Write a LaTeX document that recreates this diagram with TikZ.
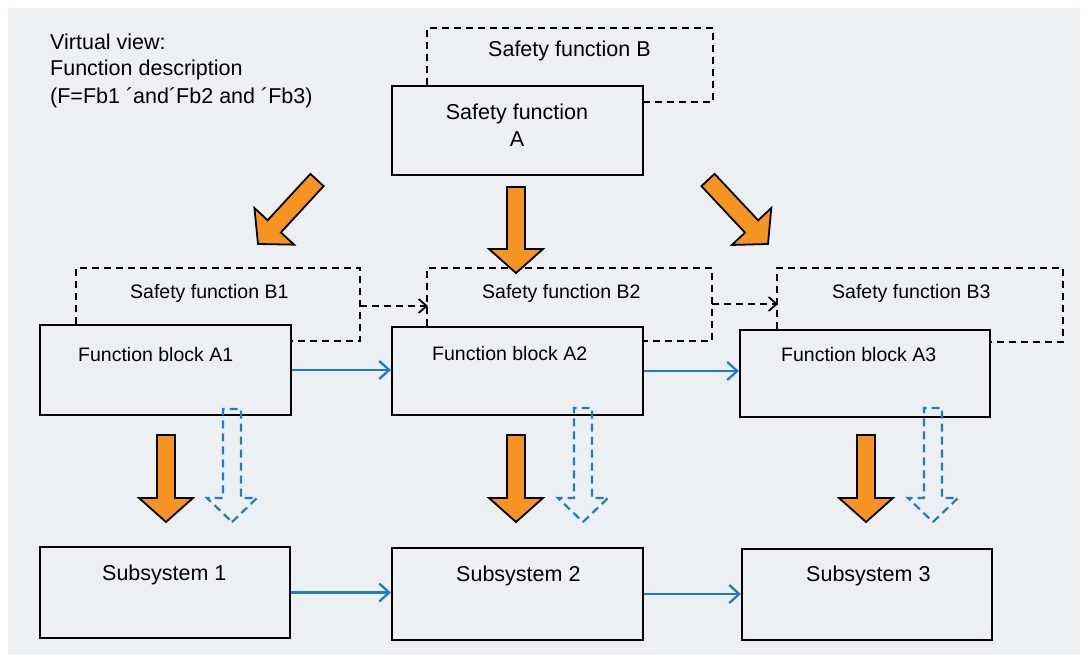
\documentclass[tikz,border=0pt]{standalone}
\usepackage{fontspec}
\setmainfont{Liberation Sans}
\usetikzlibrary{arrows.meta,calc}
\definecolor{bg}{RGB}{237,240,243}
\definecolor{sorange}{RGB}{245,148,35}
\definecolor{sblue}{RGB}{30,125,200}
\newcommand\fatarrow[4]{%
  \coordinate (fa-h) at ($(#3)!24pt!(#2)$);
  \draw[#1] (#3) -- ($(fa-h)!#4!90:(#3)$) -- ($(fa-h)!9pt!90:(#3)$) -- ($(#2)!9pt!90:(#3)$)
    -- ($(#2)!9pt!-90:(#3)$) -- ($(fa-h)!9pt!-90:(#3)$) -- ($(fa-h)!#4!-90:(#3)$) -- cycle;
}
\tikzset{
  box/.style={draw=black, line width=2.1pt, inner sep=0pt},
  txt/.style={inner sep=0pt, anchor=base west, font=\fontsize{21.5}{26}\selectfont},
  stxt/.style={txt, font=\fontsize{19.5}{23}\selectfont},
  dashline/.style={draw=black, line width=1.8pt, dash pattern=on 7pt off 5pt},
  dasharrow/.style={dashline, -{Straight Barb[length=8pt,width=14pt]}},
  bluearrow/.style={draw=sblue, line width=2.3pt, -{Straight Barb[length=10pt,width=18pt]}},
  orangefat/.style={fill=sorange, draw=black, line width=1.8pt, line join=miter},
  bluefat/.style={draw=sblue, line width=2.2pt, dash pattern=on 8pt off 5pt},
}
\begin{document}
\begin{tikzpicture}[x=1pt,y=-1pt]
\useasboundingbox (0,0) rectangle (1092,661);
\fill[white] (0,0) rectangle (1092,661);
\fill[bg] (8,8) rectangle (1080,655);

% description
\node[txt] (v1) at (50,49) {Virtual view:};
\node[txt] (v2) at (50,76) {Function description};
\node[txt] (v3) at (50,103) {(F=Fb1 ´and´Fb2 and ´Fb3)};

% top
\node[box, minimum width=251pt, minimum height=89pt] (sfa) at (517.5,130.5) {};
\node[txt, anchor=base] (sfat1) at (517,119) {Safety function};
\node[txt, anchor=base] (sfat2) at (517,146) {A};
\coordinate (bTR) at (713,28);
\draw[dashline] ($(sfa.north west)+(36,0)$) |- (bTR) |- ($(sfa.north east)+(0,17)$);
\node[txt] (sfbt) at (488,57) {Safety function B};

% row 2
\node[box, minimum width=251pt, minimum height=90pt] (a1) at (165.5,370) {};
\node[box, minimum width=251pt, minimum height=88pt] (a2) at (517.5,371) {};
\node[box, minimum width=250pt, minimum height=87pt] (a3) at (865,373.5) {};
\node[stxt] (a1t) at (78,361) {Function block A1};
\node[stxt] (a2t) at (432,360) {Function block A2};
\node[stxt] (a3t) at (781,361) {Function block A3};

\coordinate (b1c) at (360,268);
\coordinate (b2c) at (712,268);
\coordinate (b3c) at (1063,268);
\draw[dashline] ($(a1.north west)+(37,0)$) |- (b1c) |- ($(a1.north east)+(0,17)$);
\draw[dashline] ($(a2.north west)+(36,0)$) |- (b2c) |- ($(a2.north east)+(0,15)$);
\draw[dashline] ($(a3.north west)+(38,0)$) |- (b3c) |- ($(a3.north east)+(0,13)$);
\node[stxt] (b1t) at (130,298) {Safety function B1};
\node[stxt] (b2t) at (482,298) {Safety function B2};
\node[stxt] (b3t) at (832,298) {Safety function B3};

\coordinate (d1s) at (360,306);
\coordinate (d1e) at (428,306);
\coordinate (d2s) at (712,304);
\coordinate (d2e) at (778,304);
\draw[dasharrow] (d1s) -- (d1e);
\draw[dasharrow] (d2s) -- (d2e);

\draw[bluearrow] (a1.east) -- (a1.east -| a2.west);
\draw[bluearrow] (a2.east) -- (a2.east -| a3.west);

% row 3
\node[box, minimum width=250pt, minimum height=91pt] (s1) at (165,592.5) {};
\node[box, minimum width=251pt, minimum height=92pt] (s2) at (517.5,594) {};
\node[box, minimum width=250pt, minimum height=91pt] (s3) at (867,594.5) {};
\node[txt] (s1t) at (102,580) {Subsystem 1};
\node[txt] (s2t) at (456,581) {Subsystem 2};
\node[txt] (s3t) at (806,581) {Subsystem 3};
\draw[bluearrow] (s1.east) -- (s1.east -| s2.west);
\draw[bluearrow] (s2.east) -- (s2.east -| s3.west);

% fat arrows
\coordinate (oLt) at (317,180); \coordinate (oLh) at (258,244);
\coordinate (oCt) at (516,187); \coordinate (oCh) at (516,273);
\coordinate (oRt) at (708,180); \coordinate (oRh) at (768,244);
\fatarrow{orangefat}{oLt}{oLh}{27pt}
\fatarrow{orangefat}{oCt}{oCh}{27pt}
\fatarrow{orangefat}{oRt}{oRh}{27pt}

\coordinate (o1t) at (166,435); \coordinate (o1h) at (166,522);
\coordinate (o2t) at (516,435); \coordinate (o2h) at (516,522);
\coordinate (o3t) at (866,435); \coordinate (o3h) at (866,522);
\fatarrow{orangefat}{o1t}{o1h}{27pt}
\fatarrow{orangefat}{o2t}{o2h}{27pt}
\fatarrow{orangefat}{o3t}{o3h}{27pt}

\coordinate (u1t) at (232,409); \coordinate (u1h) at (232,522);
\coordinate (u2t) at (583,408); \coordinate (u2h) at (583,522);
\coordinate (u3t) at (933,408); \coordinate (u3h) at (933,522);
\fatarrow{bluefat}{u1t}{u1h}{25pt}
\fatarrow{bluefat}{u2t}{u2h}{25pt}
\fatarrow{bluefat}{u3t}{u3h}{25pt}
\end{tikzpicture}
\end{document}
